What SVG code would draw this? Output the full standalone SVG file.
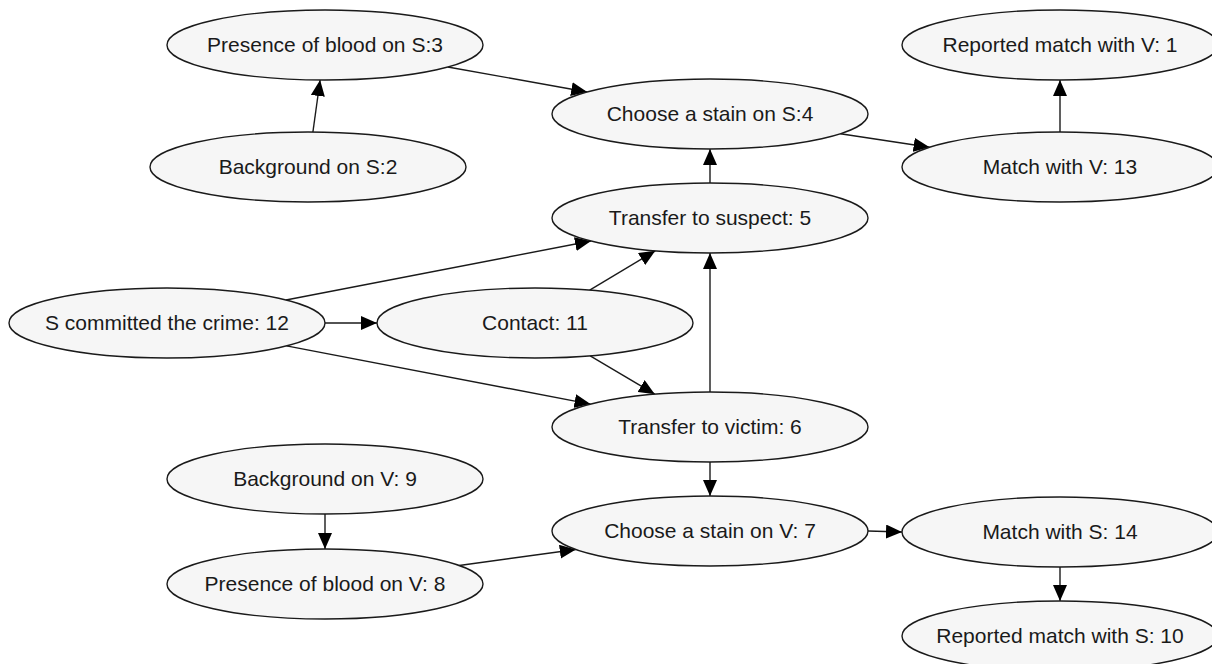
<svg xmlns="http://www.w3.org/2000/svg" width="1212" height="664" viewBox="0 0 1212 664">
<defs>
<style>
.node ellipse{fill:#f6f6f6;stroke:#1a1a1a;stroke-width:1.4}
.node text{font-family:"Liberation Sans",Arial,sans-serif;font-size:21px;fill:#1a1a1a;text-anchor:middle}
.edges line{stroke:#1a1a1a;stroke-width:1.4;marker-end:url(#arrow)}
</style>
<marker id="arrow" markerUnits="userSpaceOnUse" markerWidth="17" markerHeight="14" refX="16" refY="7" orient="auto">
<path d="M0,0 L16,7 L0,14 Z" fill="#000"/>
</marker>
</defs>
<rect width="1212" height="664" fill="#fff"/>
<g id="edges" class="edges">
<line x1="312.9" y1="132" x2="320.1" y2="80"/>
<line x1="447.8" y1="67" x2="587.2" y2="92"/>
<line x1="710" y1="183" x2="710" y2="149"/>
<line x1="840.4" y1="133.8" x2="929.6" y2="147.2"/>
<line x1="1060" y1="132" x2="1060" y2="80"/>
<line x1="286" y1="300" x2="591" y2="241"/>
<line x1="325" y1="323" x2="377" y2="323"/>
<line x1="286.5" y1="345.9" x2="590.5" y2="404.1"/>
<line x1="589.7" y1="290.2" x2="655.3" y2="250.8"/>
<line x1="590.2" y1="355.8" x2="654.8" y2="394.2"/>
<line x1="710" y1="392" x2="710" y2="253"/>
<line x1="710" y1="462" x2="710" y2="496"/>
<line x1="325" y1="514" x2="325" y2="549"/>
<line x1="459.2" y1="565.5" x2="575.8" y2="549.5"/>
<line x1="868" y1="531" x2="902" y2="532"/>
<line x1="1060" y1="567" x2="1060" y2="601"/>
</g>
<g id="n3" class="node"><ellipse cx="325" cy="45" rx="158" ry="35"/><text x="325" y="52">Presence of blood on S:3</text></g>
<g id="n2" class="node"><ellipse cx="308" cy="167" rx="158" ry="35"/><text x="308" y="174">Background on S:2</text></g>
<g id="n4" class="node"><ellipse cx="710" cy="114" rx="158" ry="35"/><text x="710" y="121">Choose a stain on S:4</text></g>
<g id="n1" class="node"><ellipse cx="1060" cy="45" rx="158" ry="35"/><text x="1060" y="52">Reported match with V: 1</text></g>
<g id="n13" class="node"><ellipse cx="1060" cy="167" rx="158" ry="35"/><text x="1060" y="174">Match with V: 13</text></g>
<g id="n5" class="node"><ellipse cx="710" cy="218" rx="158" ry="35"/><text x="710" y="225">Transfer to suspect: 5</text></g>
<g id="n12" class="node"><ellipse cx="167" cy="323" rx="158" ry="35"/><text x="167" y="330">S committed the crime: 12</text></g>
<g id="n11" class="node"><ellipse cx="535" cy="323" rx="158" ry="35"/><text x="535" y="330">Contact: 11</text></g>
<g id="n6" class="node"><ellipse cx="710" cy="427" rx="158" ry="35"/><text x="710" y="434">Transfer to victim: 6</text></g>
<g id="n9" class="node"><ellipse cx="325" cy="479" rx="158" ry="35"/><text x="325" y="486">Background on V: 9</text></g>
<g id="n7" class="node"><ellipse cx="710" cy="531" rx="158" ry="35"/><text x="710" y="538">Choose a stain on V: 7</text></g>
<g id="n8" class="node"><ellipse cx="325" cy="584" rx="158" ry="35"/><text x="325" y="591">Presence of blood on V: 8</text></g>
<g id="n14" class="node"><ellipse cx="1060" cy="532" rx="158" ry="35"/><text x="1060" y="539">Match with S: 14</text></g>
<g id="n10" class="node"><ellipse cx="1060" cy="636" rx="158" ry="35"/><text x="1060" y="643">Reported match with S: 10</text></g>
</svg>
